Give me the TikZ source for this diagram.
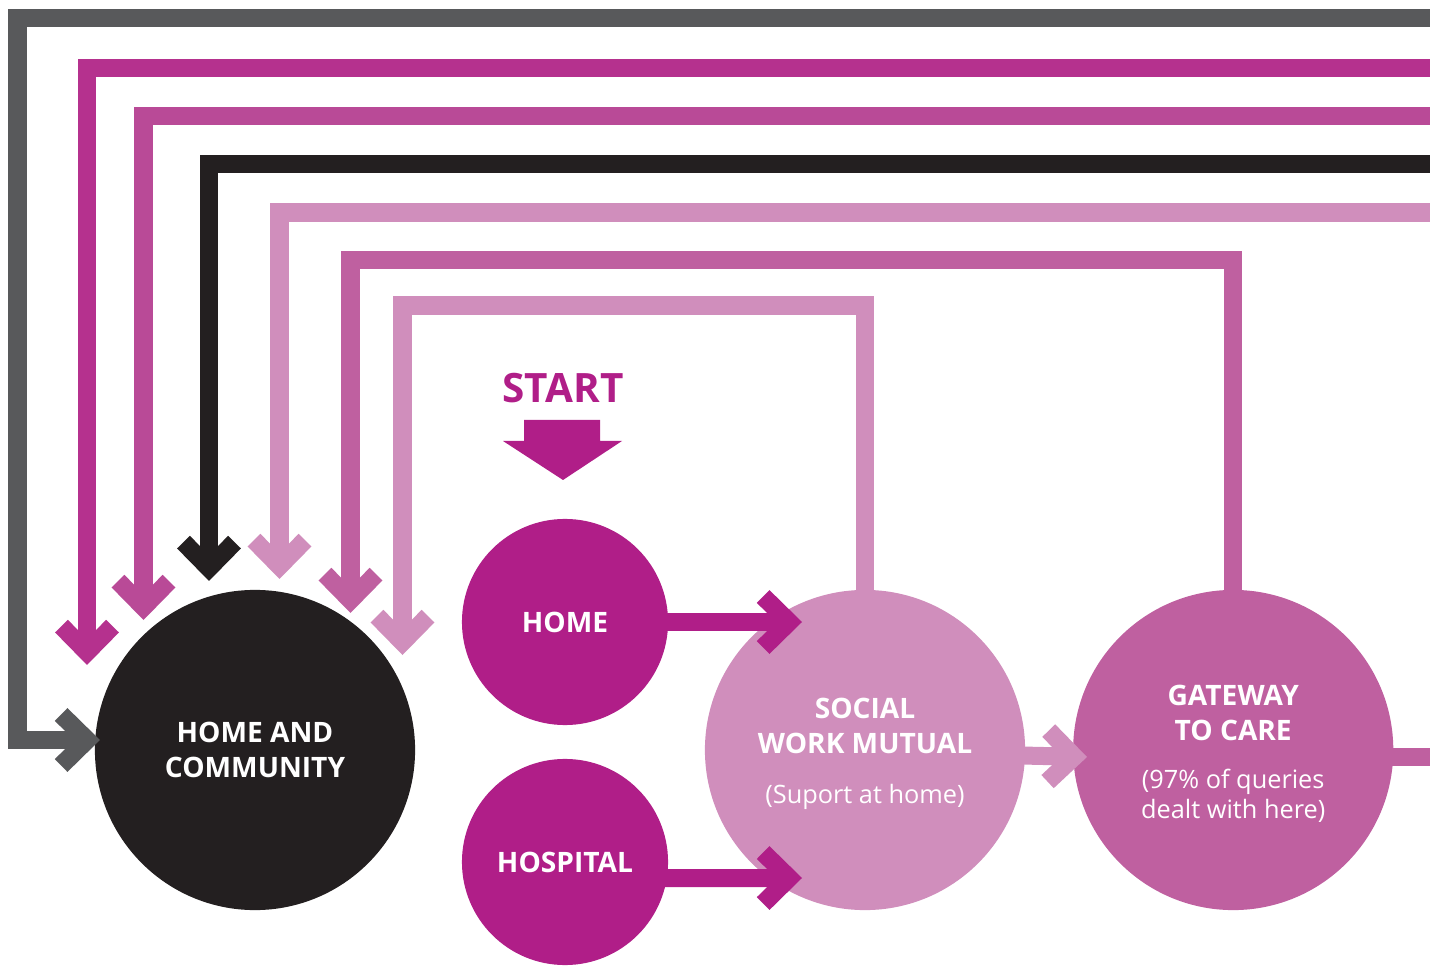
\documentclass[tikz,border=0pt]{standalone}
\usepackage{fontspec}
\setmainfont{Open Sans}
\usetikzlibrary{positioning, arrows.meta}

\definecolor{loopgrey}{HTML}{58595B}
\definecolor{loopplum}{HTML}{B5318E}
\definecolor{loopberry}{HTML}{B94A97}
\definecolor{loopblack}{HTML}{231F20}
\definecolor{looplilac}{HTML}{D08EBC}
\definecolor{loopmauve}{HTML}{BF60A0}
\definecolor{startplum}{HTML}{B01E88}

\newcommand{\subtxt}[1]{{\mdseries\fontsize{7.2}{9}\selectfont #1}}

\begin{document}
\begin{tikzpicture}[
    x=0.01cm, y=-0.01cm,
    every node/.style={circle, inner sep=0pt, outer sep=0pt, text=white, align=center, font=\bfseries\fontsize{8}{10}\selectfont},
    every path/.style={line width=0.18cm, line join=miter},
    big/.style={minimum size=3.2cm},
    small/.style={minimum size=2.06cm, fill=startplum},
    feed/.style={-{Straight Barb[length=0.26cm, width=0.51cm]}}]

		\useasboundingbox (0,0) rectangle (1430,967);

		\node[big, fill=loopblack] (hc) at (255,750) {HOME AND\\COMMUNITY};
		\node[small] (home) at (565,622) {HOME};
		\node[small] (hosp) at (565,862) {HOSPITAL};
		\node[big, fill=looplilac] (swm) at (865,750) {\rule{0pt}{8pt}SOCIAL\\WORK MUTUAL\\[4.4pt]\subtxt{(Suport at home)}};
		\node[big, fill=loopmauve, right=0.48cm of swm] (gate) {\rule{0pt}{8pt}GATEWAY\\TO CARE\\[3.7pt]\subtxt{(97\% of queries}\\[-1.5pt]\subtxt{dealt with here)}};
		\node[text=startplum, font=\bfseries\fontsize{11.5}{13}\selectfont] (start) at (563,388) {START};

		% loose ends at the right edge
		\coordinate (edgeA) at (1430,18);
		\coordinate (edgeB) at (1430,68);
		\coordinate (edgeC) at (1430,116.5);
		\coordinate (edgeD) at (1430,164);
		\coordinate (edgeE) at (1430,212.5);
		\coordinate (edgeF) at (1430,757);

		% corners and arrow ends round home and community
		\coordinate (bendA) at (17.5,740);
		\coordinate (bendF) at (350.5,260);
		\coordinate (bendG) at (402.5,305.5);
		\coordinate (tipA) at (100,740);
		\coordinate (tipB) at (87,665);
		\coordinate (tipC) at (143.5,620);
		\coordinate (tipD) at (209,581);
		\coordinate (tipE) at (279.5,579);
		\coordinate (tipF) at (350.5,613);
		\coordinate (tipG) at (402.5,655);
		\coordinate (tipHome) at (802,622);
		\coordinate (tipHosp) at (802,878);
		\coordinate (tipGate) at (1087,757);

		\draw[feed, loopgrey] (edgeA) -| (bendA) -- (tipA);
		\draw[feed, loopplum] (edgeB) -| (tipB);
		\draw[feed, loopberry] (edgeC) -| (tipC);
		\draw[feed, loopblack] (edgeD) -| (tipD);
		\draw[feed, looplilac] (edgeE) -| (tipE);
		\draw[feed, loopmauve, shorten <=-0.1cm] (gate.north) |- (bendF) -- (tipF);
		\draw[feed, looplilac, shorten <=-0.1cm] (swm.north) |- (bendG) -- (tipG);
		\draw[loopmauve] (edgeF -| gate.center) -- (edgeF);

		\draw[feed, startplum, shorten <=-0.05cm] (home.east) -- (tipHome);
		\draw[feed, startplum, shorten <=-0.05cm] (hosp.-9) -- (tipHosp);
		\draw[feed, looplilac, shorten <=-0.1cm] (swm.-2.5) -- (tipGate);

		% start marker
		\fill[startplum, line width=0pt] (524,420) -- (600,420) -- (600,441) -- (622,441) -- (563,480) -- (503,441) -- (524,441) -- cycle;
		
		\end{tikzpicture}
\end{document}
